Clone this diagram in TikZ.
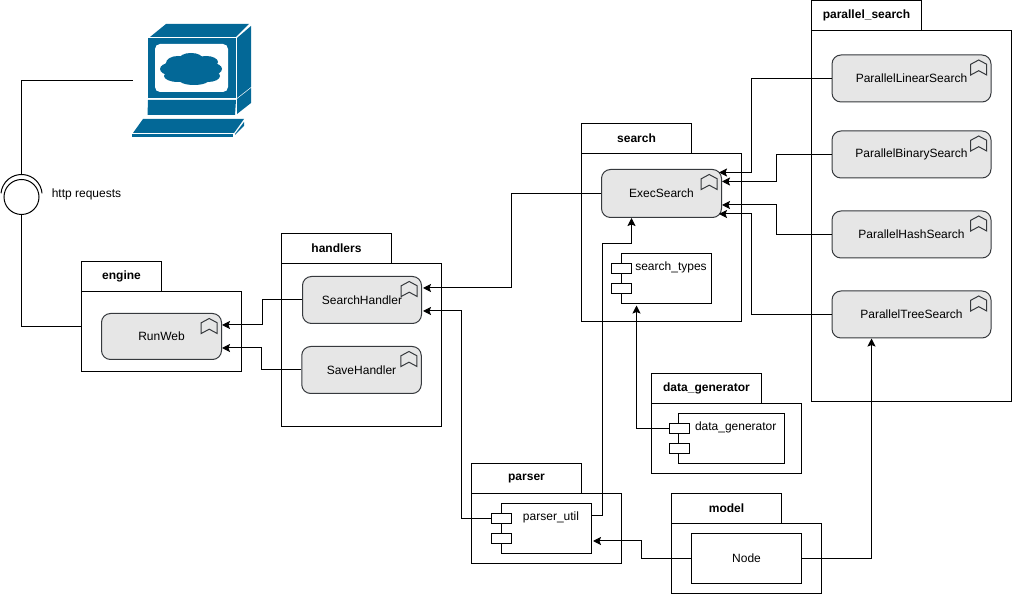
\documentclass[tikz,border=0pt]{standalone}
\usepackage{fontspec}
\setmainfont{Liberation Sans}
\usetikzlibrary{arrows.meta}
\definecolor{iconblue}{HTML}{036897}
\definecolor{svcfill}{HTML}{E6E6E6}
\definecolor{svcline}{HTML}{36393D}
\tikzset{
  box/.style={draw,line width=1bp,inner sep=0pt,fill=white,minimum width=#1},
  box/.default=110bp,
  pkgtab/.style={box=#1,minimum height=30bp,font=\fontsize{12bp}{14bp}\selectfont\bfseries},
  pkgtab/.default=110bp,
  pkgbody/.style={box=#1},
  svc/.style={draw=svcline,fill=svcfill,line width=1bp,inner sep=0pt,rounded corners=9bp,minimum width=#1,minimum height=47bp},
  svc/.default=120bp,
  port/.style={box=20bp,minimum height=10bp},
  bookmark/.pic={
    \draw[svcline,line width=1bp,line join=miter] (-20.8bp,-9.8bp) -- (-12.8bp,-5.5bp) -- (-4.8bp,-9.8bp) -- (-4.8bp,-20.5bp)
      -- (-12.8bp,-16.2bp) -- (-20.8bp,-20.5bp) -- cycle;
  },
}
\begin{document}
\begin{tikzpicture}[>={Stealth[length=8bp,width=8bp,inset=1.5bp]},line width=1bp,font=\fontsize{12bp}{14bp}\selectfont]
\useasboundingbox (0bp,0bp) rectangle (1012bp,594bp);
%%
\node (node_engine_tab) at (121.5bp,317.5bp) [pkgtab=80bp] {engine};
  \node (node_engine_body) at (161.5bp,262.5bp) [pkgbody=160bp,minimum height=80bp] {};
  \node (node_handlers_tab) at (336.5bp,345.5bp) [pkgtab] {handlers};
  \node (node_handlers_body) at (361.5bp,249bp) [pkgbody=160bp,minimum height=163bp] {};
  \node (node_search_tab) at (636.5bp,455.5bp) [pkgtab] {search};
  \node (node_search_body) at (661.5bp,356.5bp) [pkgbody=160bp,minimum height=168bp] {};
  \node (node_parallel_tab) at (866.5bp,578.5bp) [pkgtab] {parallel\_search};
  \node (node_parallel_body) at (911.5bp,378bp) [pkgbody=200bp,minimum height=370.5bp] {};
  \node (node_generator_tab) at (706.5bp,205.5bp) [pkgtab] {data\_generator};
  \node (node_generator_body) at (726.5bp,155.5bp) [pkgbody=150bp,minimum height=70bp] {};
  \node (node_parser_tab) at (526.5bp,115.5bp) [pkgtab] {parser};
  \node (node_parser_body) at (546.5bp,65.5bp) [pkgbody=150bp,minimum height=70bp] {};
  \node (node_model_tab) at (726.5bp,85.5bp) [pkgtab] {model};
  \node (node_model_body) at (746.5bp,35.5bp) [pkgbody=150bp,minimum height=70bp] {};
%
\node (node_run_web) at (161.5bp,257.5bp) [svc,minimum height=46bp] {RunWeb};
  \node (node_search_handler) at (362bp,294bp) [svc=119bp] {SearchHandler};
  \node (node_save_handler) at (361.5bp,224bp) [svc=119.5bp] {SaveHandler};
  \node (node_exec_search) at (661.5bp,400.5bp) [svc,minimum height=48bp] {ExecSearch};
  \node (node_linear) at (911.5bp,515.5bp) [svc=159bp] {ParallelLinearSearch};
  \node (node_binary) at (911.5bp,439.5bp) [svc=159bp] {ParallelBinarySearch};
  \node (node_hash) at (911.5bp,359.5bp) [svc=159bp] {ParallelHashSearch};
  \node (node_tree) at (911.5bp,279.5bp) [svc=159bp] {ParallelTreeSearch};
  \foreach \svcname in {run_web,search_handler,save_handler,exec_search,linear,binary,hash,tree}
    \pic at (node_\svcname.north east) {bookmark};
%
\node (node_search_types) at (666.5bp,315.5bp) [box=90bp,minimum height=50bp] {};
  \node (node_types_port_a) at (621.5bp,325.5bp) [port] {};
  \node (node_types_port_b) at (621.5bp,305.5bp) [port] {};
  \node (node_types_text) at (671bp,326.5bp) {search\_types};
  \node (node_data_generator) at (731.5bp,155.5bp) [box=106bp,minimum height=50bp] {};
  \node (node_data_port_a) at (679.5bp,165.5bp) [port] {};
  \node (node_data_port_b) at (679.5bp,145.5bp) [port] {};
  \node (node_data_text) at (735.7bp,166.5bp) {data\_generator};
  \node (node_parser_util) at (546.5bp,65.5bp) [box=90bp,minimum height=50bp] {};
  \node (node_parser_port_a) at (501.5bp,75.5bp) [port] {};
  \node (node_parser_port_b) at (501.5bp,55.5bp) [port] {};
  \node (node_parser_text) at (551bp,76.5bp) {parser\_util};
  \node (node_node) at (746.5bp,35.5bp) [box=110bp,minimum height=50bp] {Node};
%
\fill[iconblue] (150bp,557bp) -- (166bp,570bp) -- (249bp,570bp) -- (236bp,557bp) -- cycle;
  \fill[iconblue] (148bp,556bp) rectangle (236bp,496bp);
  \fill[white,rounded corners=5bp] (155bp,550bp) rectangle (228bp,502bp);
  \fill[iconblue] (237bp,556bp) -- (251bp,568bp) -- (251bp,507bp) -- (237bp,496bp) -- cycle;
  \fill[iconblue] (237bp,495bp) -- (251bp,506bp) -- (251bp,491bp) -- (237bp,480bp) -- cycle;
  \fill[iconblue] (148bp,494bp) -- (236bp,494bp) -- (235bp,479bp) -- (147.5bp,479bp) -- cycle;
  \fill[iconblue] (143bp,475bp) -- (244bp,475bp) -- (234bp,461bp) -- (133bp,461bp) -- cycle;
  \fill[iconblue] (132bp,460bp) rectangle (233bp,457bp);
  \fill[iconblue] (235bp,460bp) -- (244bp,472bp) -- (244bp,468bp) -- (235bp,459bp) -- cycle;
  \foreach \cx/\cy/\rx/\ry in {191/525.5/28/12,178/531/12/7,191/535/12/6,206/532/12/6,170/525/10/6,212/525/10/6,178/518/14/6,194/515/16/6,208/518/12/6}
    \fill[iconblue] (\cx bp,\cy bp) ellipse [x radius=\rx bp,y radius=\ry bp];
%
\coordinate (node_computer) at (132.5bp,513.5bp);
  \coordinate (node_socket) at (21.5bp,419.5bp);
  \node (node_iface) at (21.5bp,397bp) [draw,circle,inner sep=0pt,minimum size=35bp] {};
  \node (node_http) at (86.5bp,399.5bp) {http requests};
  \draw ([shift={(-20.5bp,-18.8bp)}]node_socket) arc [start angle=175,end angle=5,radius=20.6bp];
  \draw (node_computer) -| (node_socket);
  \draw (node_iface.south) |- ([yshift=5bp]node_engine_body.west);
%
\draw [black,->] (node_search_handler.west) -- ++(-40bp,0bp) |- ([yshift=11.5bp]node_run_web.east);
  \draw [black,->] (node_save_handler.west) -- ++(-40bp,0bp) |- ([yshift=-11.5bp]node_run_web.east);
  \draw [black,->] (node_exec_search.west) -- ++(-90bp,0bp) |- ([xshift=1bp,yshift=12bp]node_search_handler.east);
  \draw [black,->] (node_parser_port_a.west) -- ++(-30bp,0bp) |- ([xshift=1bp,yshift=-11bp]node_search_handler.east);
  \draw [black,->] ([yshift=12.5bp]node_parser_util.east) -- ++(10bp,0bp) -- ++(0bp,272.5bp) -| ([xshift=-30bp]node_exec_search.south);
  \draw [black,->] (node_data_port_a.west) -| ([xshift=-30bp,yshift=-1.5bp]node_search_types.south);
  \draw [black,->] (node_node.west) -- ++(-50bp,0bp) |- ([xshift=1bp,yshift=-12.5bp]node_parser_util.east);
  \draw [black,->] (node_node.east) -| ([xshift=-40bp]node_tree.south);
  \draw [black,->] (node_linear.west) -- ++(-80bp,0bp) |- ([xshift=-3bp,yshift=21bp]node_exec_search.east);
  \draw [black,->] (node_binary.west) -- ++(-55.5bp,0bp) |- ([yshift=12bp]node_exec_search.east);
  \draw [black,->] (node_hash.west) -- ++(-55.5bp,0bp) |- ([yshift=-11.5bp]node_exec_search.east);
  \draw [black,->] (node_tree.west) -- ++(-80.5bp,0bp) |- ([xshift=-3bp,yshift=-20.5bp]node_exec_search.east);
%
\end{tikzpicture}
\end{document}
